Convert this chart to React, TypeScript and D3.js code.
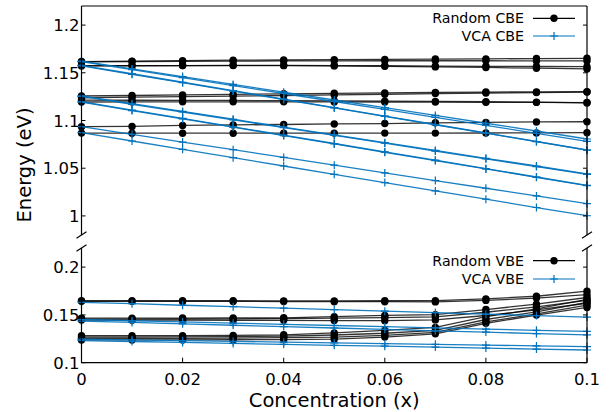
import React from "react";
import * as d3 from "d3";

const xs = [0, 0.01, 0.02, 0.03, 0.04, 0.05, 0.06, 0.07, 0.08, 0.09, 0.1];

const randomCBE: number[][] = [
  [1.1618, 1.1622, 1.1628, 1.1632, 1.1634, 1.1638, 1.164, 1.1644, 1.1646, 1.1649, 1.1652],
  [1.1614, 1.1618, 1.162, 1.1622, 1.1624, 1.1625, 1.1626, 1.1626, 1.1626, 1.1624, 1.1624],
  [1.1576, 1.1576, 1.1576, 1.1576, 1.1575, 1.1572, 1.1568, 1.1562, 1.1556, 1.1548, 1.154],
  [1.1572, 1.1574, 1.1576, 1.1578, 1.1578, 1.1576, 1.1574, 1.157, 1.1568, 1.1566, 1.1564],
];
const randomCBE2: number[][] = [
  [1.1257, 1.1262, 1.1268, 1.1274, 1.128, 1.1285, 1.129, 1.1294, 1.1298, 1.13, 1.1302],
  [1.1238, 1.1244, 1.125, 1.1256, 1.1262, 1.1268, 1.1275, 1.1282, 1.1288, 1.1293, 1.1298],
  [1.1214, 1.1212, 1.1211, 1.121, 1.1208, 1.1206, 1.1203, 1.12, 1.1197, 1.1192, 1.1184],
  [1.1194, 1.1195, 1.1196, 1.1196, 1.1196, 1.1195, 1.1194, 1.1193, 1.1191, 1.119, 1.1188],
];
const randomCBE3: number[][] = [
  [1.0935, 1.0938, 1.0948, 1.0954, 1.0958, 1.0964, 1.0968, 1.0976, 1.098, 1.0985, 1.0987],
  [1.0868, 1.0867, 1.0867, 1.0867, 1.0868, 1.0868, 1.0868, 1.0868, 1.0869, 1.087, 1.0872],
];

const vcaCBE: number[][] = [
  [1.1622, 1.1541, 1.146, 1.1378, 1.1297, 1.1215, 1.1134, 1.1053, 1.0971, 1.089, 1.0806],
  [1.1616, 1.1533, 1.1449, 1.1366, 1.1283, 1.1199, 1.1116, 1.1032, 1.0949, 1.0866, 1.0782],
  [1.1578, 1.149, 1.1401, 1.1313, 1.1224, 1.1135, 1.1046, 1.0958, 1.0869, 1.078, 1.0691],
  [1.1572, 1.1484, 1.1396, 1.1308, 1.122, 1.1132, 1.1043, 1.0955, 1.0867, 1.0779, 1.0689],
  [1.1258, 1.1176, 1.1095, 1.1013, 1.0931, 1.085, 1.0768, 1.0686, 1.0604, 1.0523, 1.0441],
  [1.1252, 1.117, 1.1089, 1.1007, 1.0925, 1.0844, 1.0762, 1.068, 1.0598, 1.0517, 1.0436],
  [1.1197, 1.1109, 1.1022, 1.0934, 1.0846, 1.0759, 1.0671, 1.0584, 1.0496, 1.0408, 1.0321],
  [1.1192, 1.1104, 1.1017, 1.093, 1.0842, 1.0754, 1.0667, 1.058, 1.0492, 1.0405, 1.0317],
  [1.0936, 1.0855, 1.0774, 1.0694, 1.0613, 1.0532, 1.0451, 1.037, 1.029, 1.0209, 1.0128],
  [1.0872, 1.0785, 1.0698, 1.061, 1.0523, 1.0436, 1.0349, 1.0262, 1.0175, 1.0088, 1.0002],
];

const randomVBE: number[][] = [
  [0.1648, 0.1648, 0.1648, 0.1648, 0.1647, 0.1647, 0.1648, 0.1649, 0.1668, 0.1695, 0.1748],
  [0.1642, 0.1642, 0.1641, 0.1641, 0.164, 0.1638, 0.1638, 0.1636, 0.1652, 0.1676, 0.1712],
  [0.1466, 0.1466, 0.1467, 0.1468, 0.147, 0.1482, 0.1495, 0.1502, 0.1556, 0.1612, 0.1682],
  [0.1456, 0.1456, 0.1457, 0.1459, 0.1461, 0.1466, 0.1472, 0.148, 0.1528, 0.1584, 0.1652],
  [0.1446, 0.1445, 0.1445, 0.1444, 0.1443, 0.1441, 0.144, 0.1448, 0.1494, 0.1552, 0.1622],
  [0.1282, 0.1282, 0.1283, 0.1286, 0.1292, 0.1312, 0.1338, 0.137, 0.1482, 0.1562, 0.1662],
  [0.1268, 0.1268, 0.127, 0.1272, 0.1278, 0.129, 0.1308, 0.1338, 0.1452, 0.1532, 0.1632],
  [0.1254, 0.1254, 0.1255, 0.1258, 0.1262, 0.1268, 0.1286, 0.1318, 0.1428, 0.151, 0.1602],
  [0.1238, 0.1238, 0.1238, 0.124, 0.1242, 0.1246, 0.1268, 0.1302, 0.1412, 0.1498, 0.1578],
];

const vcaVBE: number[][] = [
  [0.1632, 0.1617, 0.1601, 0.1586, 0.157, 0.1555, 0.1539, 0.1524, 0.1508, 0.1493, 0.1477],
  [0.1452, 0.1439, 0.1427, 0.1414, 0.1402, 0.1389, 0.1377, 0.1364, 0.1352, 0.1339, 0.1327],
  [0.1436, 0.1421, 0.1407, 0.1392, 0.1378, 0.1363, 0.1349, 0.1334, 0.132, 0.1305, 0.1291],
  [0.1246, 0.1238, 0.1230, 0.1223, 0.1215, 0.1207, 0.1199, 0.1192, 0.1184, 0.1176, 0.1168],
  [0.1232, 0.1222, 0.1212, 0.1202, 0.1192, 0.1182, 0.1173, 0.1163, 0.1153, 0.1143, 0.1133],
];

const xTicks = [0, 0.02, 0.04, 0.06, 0.08, 0.1];
const cbeTicks = [1, 1.05, 1.1, 1.15, 1.2];
const vbeTicks = [0.1, 0.15, 0.2];

const BLUE = "#0072bd";
const FONT = "DejaVu Sans";

const left = 81.5;
const right = 587;
const topY0 = 6;
const topY1 = 235;
const botY0 = 248;
const botY1 = 362.7;

export default function App() {
  const x = d3.scaleLinear().domain([0, 0.1]).range([left, right]);
  const yTop = d3.scaleLinear().domain([0.98, 1.22]).range([topY1, topY0]);
  const yBot = d3.scaleLinear().domain([0.1, 0.22]).range([botY1, botY0]);
  const fmt = (v: number) => d3.format("~g")(v);

  const lineFor = (y: d3.ScaleLinear<number, number>) =>
    d3
      .line<number>()
      .x((_, i) => x(xs[i]))
      .y((d) => y(d));

  const lt = lineFor(yTop);
  const lb = lineFor(yBot);

  const allRandomCBE = [...randomCBE, ...randomCBE2, ...randomCBE3];

  const circles = (series: number[][], y: d3.ScaleLinear<number, number>, key: string) =>
    series.map((s, si) =>
      s.map((v, i) => (
        <circle key={`${key}-${si}-${i}`} cx={x(xs[i])} cy={y(v)} r={3.7} fill="#000" />
      ))
    );

  const crosses = (series: number[][], y: d3.ScaleLinear<number, number>, key: string) =>
    series.map((s, si) =>
      s.map((v, i) => {
        const cx = x(xs[i]);
        const cy = y(v);
        return (
          <path
            key={`${key}-${si}-${i}`}
            d={`M${cx - 4},${cy}H${cx + 4}M${cx},${cy - 4}V${cy + 4}`}
            stroke={BLUE}
            strokeWidth={1.2}
          />
        );
      })
    );

  const slash = (cx: number, cy: number, k: string) => (
    <line key={k} x1={cx - 5} y1={cy + 3.3} x2={cx + 5} y2={cy - 3.3} stroke="#000" strokeWidth={1.2} />
  );

  const legend = (y1: number, y2: number, t1: string, t2: string) => (
    <g>
      <text x={524} y={y1 + 5} textAnchor="end" fontSize={14.2} fontFamily={FONT} fill="#000">
        {t1}
      </text>
      <line x1={533} x2={575} y1={y1} y2={y1} stroke="#000" strokeWidth={1.2} />
      <circle cx={554} cy={y1} r={3.7} fill="#000" />
      <text x={524} y={y2 + 5} textAnchor="end" fontSize={14.2} fontFamily={FONT} fill="#000">
        {t2}
      </text>
      <line x1={533} x2={575} y1={y2} y2={y2} stroke={BLUE} strokeWidth={1.2} />
      <path d={`M550,${y2}H558M554,${y2 - 4}V${y2 + 4}`} stroke={BLUE} strokeWidth={1.2} />
    </g>
  );

  return (
    <svg
      width={615}
      height={412}
      style={{ position: "absolute", left: 0, top: 0, background: "#fff" }}
    >
      <rect x={0} y={0} width={615} height={412} fill="#fff" />

      <g>
        {allRandomCBE.map((s, i) => (
          <path key={`rc-${i}`} d={lt(s) || ""} fill="none" stroke="#000" strokeOpacity={0.8} strokeWidth={1.3} />
        ))}
        {circles(allRandomCBE, yTop, "rcc")}
        {vcaCBE.map((s, i) => (
          <path key={`vc-${i}`} d={lt(s) || ""} fill="none" stroke={BLUE} strokeOpacity={0.9} strokeWidth={1.3} />
        ))}
        {crosses(vcaCBE, yTop, "vcc")}
      </g>

      <g>
        {randomVBE.map((s, i) => (
          <path key={`rv-${i}`} d={lb(s) || ""} fill="none" stroke="#000" strokeOpacity={0.8} strokeWidth={1.3} />
        ))}
        {circles(randomVBE, yBot, "rvc")}
        {vcaVBE.map((s, i) => (
          <path key={`vv-${i}`} d={lb(s) || ""} fill="none" stroke={BLUE} strokeOpacity={0.9} strokeWidth={1.3} />
        ))}
        {crosses(vcaVBE, yBot, "vvc")}
      </g>

      <g stroke="#000" strokeWidth={1.2} fill="none">
        <line x1={left} x2={right} y1={topY0} y2={topY0} />
        <line x1={left} x2={left} y1={topY0} y2={topY1} />
        <line x1={right} x2={right} y1={topY0} y2={topY1} />
        <line x1={left} x2={left} y1={botY0} y2={botY1} />
        <line x1={right} x2={right} y1={botY0} y2={botY1} />
        <line x1={left} x2={right} y1={botY1} y2={botY1} />
      </g>

      {slash(left, topY1, "s1")}
      {slash(left, botY0, "s2")}
      {slash(right, topY1, "s3")}
      {slash(right, botY0, "s4")}

      {cbeTicks.map((t) => (
        <g key={`ct-${t}`}>
          <line x1={left} x2={left + 4} y1={yTop(t)} y2={yTop(t)} stroke="#000" strokeWidth={1} />
          <line x1={right} x2={right - 4} y1={yTop(t)} y2={yTop(t)} stroke="#000" strokeWidth={1} />
          <text x={79.5} y={yTop(t) + 6} textAnchor="end" fontSize={16.5} fontFamily={FONT} fill="#000">
            {fmt(t)}
          </text>
        </g>
      ))}
      {vbeTicks.map((t) => (
        <g key={`vt-${t}`}>
          <line x1={left} x2={left + 4} y1={yBot(t)} y2={yBot(t)} stroke="#000" strokeWidth={1} />
          <line x1={right} x2={right - 4} y1={yBot(t)} y2={yBot(t)} stroke="#000" strokeWidth={1} />
          <text x={79.5} y={yBot(t) + 6} textAnchor="end" fontSize={16.5} fontFamily={FONT} fill="#000">
            {fmt(t)}
          </text>
        </g>
      ))}
      {xTicks.map((t) => (
        <g key={`xt-${t}`}>
          <line x1={x(t)} x2={x(t)} y1={botY1} y2={botY1 - 5} stroke="#000" strokeWidth={1} />
          <text x={x(t)} y={385} textAnchor="middle" fontSize={16.5} fontFamily={FONT} fill="#000">
            {fmt(t)}
          </text>
        </g>
      ))}

      <text x={(left + right) / 2} y={407} textAnchor="middle" fontSize={19.5} fontFamily={FONT} fill="#000">
        Concentration (x)
      </text>
      <text
        transform={`translate(31,165) rotate(-90)`}
        textAnchor="middle"
        fontSize={19.5}
        fontFamily={FONT}
        fill="#000"
      >
        Energy (eV)
      </text>

      {legend(18.3, 36, "Random CBE", "VCA CBE")}
      {legend(260.7, 279, "Random VBE", "VCA VBE")}
    </svg>
  );
}
